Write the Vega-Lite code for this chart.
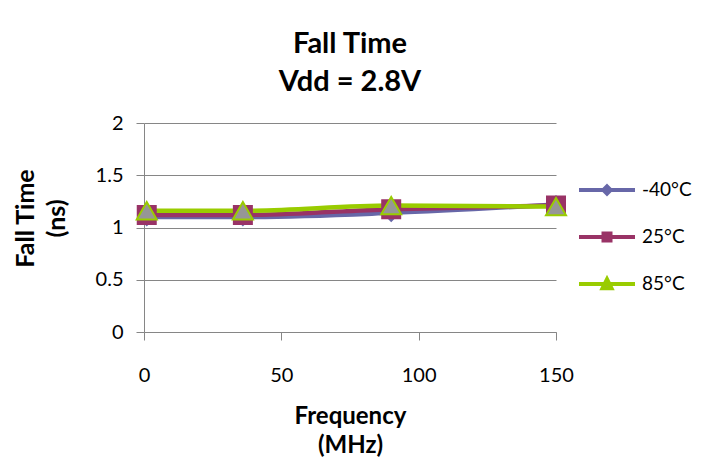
{
  "$schema": "https://vega.github.io/schema/vega-lite/v6.json",
  "autosize": "none",
  "width": 412,
  "height": 209,
  "padding": {"left": 144, "top": 123, "right": 146, "bottom": 136},
  "background": "white",
  "config": {"font": "Lato", "view": {"stroke": null}},
  "title": {"text": ["Fall Time", "Vdd = 2.8V"], "fontSize": 29, "fontWeight": "bold", "lineHeight": 38, "anchor": "middle", "offset": 16, "color": "black"},
  "data": {"values": [
    {"freq": 1, "temp": "-40°C", "t": 1.10},
    {"freq": 36, "temp": "-40°C", "t": 1.10},
    {"freq": 90, "temp": "-40°C", "t": 1.14},
    {"freq": 150, "temp": "-40°C", "t": 1.22},
    {"freq": 1, "temp": "25°C", "t": 1.12},
    {"freq": 36, "temp": "25°C", "t": 1.12},
    {"freq": 90, "temp": "25°C", "t": 1.175},
    {"freq": 150, "temp": "25°C", "t": 1.21},
    {"freq": 1, "temp": "85°C", "t": 1.16},
    {"freq": 36, "temp": "85°C", "t": 1.16},
    {"freq": 90, "temp": "85°C", "t": 1.21},
    {"freq": 150, "temp": "85°C", "t": 1.20}
  ]},
  "encoding": {
    "x": {"field": "freq", "type": "quantitative", "scale": {"domain": [0, 150], "nice": false},
      "axis": {"values": [0, 50, 100, 150], "grid": false, "domainColor": "#868686", "tickColor": "#868686", "tickSize": 8, "labelFontSize": 20, "labelColor": "black", "labelPadding": 25, "labelFlush": false,
        "title": ["Frequency", "(MHz)"], "titleFontSize": 24, "titleFontWeight": "bold", "titleLineHeight": 29, "titleY": 91, "titleBaseline": "alphabetic", "titleColor": "black"}},
    "y": {"field": "t", "type": "quantitative", "scale": {"domain": [0, 2], "nice": false},
      "axis": {"values": [0, 0.5, 1, 1.5, 2], "format": "~g", "grid": true, "gridColor": "#868686", "domainColor": "#868686", "tickColor": "#868686", "tickSize": 8, "labelFontSize": 20, "labelColor": "black", "labelPadding": 13,
        "title": ["Fall Time", "(ns)"], "titleFontSize": 25, "titleFontWeight": "bold", "titleLineHeight": 31, "titleAngle": -90, "titleX": -111, "titleY": 95, "titleBaseline": "alphabetic", "titleColor": "black"}}
  },
  "layer": [
    {
      "mark": {"type": "line", "interpolate": "monotone", "strokeWidth": 4.5},
      "encoding": {
        "stroke": {"field": "temp", "type": "nominal",
          "scale": {"domain": ["-40°C", "25°C", "85°C"], "range": ["#6767a8", "#993366", "#99cc00"]},
          "legend": {"title": null, "orient": "none", "legendX": 433, "legendY": 57, "clipHeight": 20, "rowPadding": 27, "labelFontSize": 19, "labelOffset": 5, "padding": 0, "labelColor": "black",
            "symbolSize": 3136,
            "symbolType": {"expr": "datum.value === '-40°C' ? 'M-1,0H1M0,-0.13L0.13,0L0,0.13L-0.13,0Z' : datum.value === '25°C' ? 'M-1,0H1M-0.125,-0.125H0.125V0.125H-0.125Z' : 'M-1,0H1M0,-0.17L0.16,0.15H-0.16Z'"},
            "symbolFillColor": {"expr": "datum.value === '-40°C' ? '#6767a8' : datum.value === '25°C' ? '#993366' : '#969696'"},
            "symbolStrokeWidth": 4,
            "symbolOpacity": 1
          }}
      }
    },
    {
      "transform": [{"filter": "datum.temp === '-40°C'"}],
      "mark": {"type": "point", "shape": "diamond", "filled": true, "fill": "#6767a8", "stroke": "#6767a8", "strokeWidth": 2, "size": 256, "opacity": 1}
    },
    {
      "transform": [{"filter": "datum.temp === '25°C'"}],
      "mark": {"type": "point", "shape": "square", "filled": true, "fill": "#993366", "stroke": "#993366", "strokeWidth": 2, "size": 324, "opacity": 1}
    },
    {
      "transform": [{"filter": "datum.temp === '85°C'"}],
      "mark": {"type": "point", "shape": "triangle-up", "filled": true, "fill": "#969696", "stroke": "#99cc00", "strokeWidth": 2, "size": 400, "opacity": 1}
    }
  ]
}
